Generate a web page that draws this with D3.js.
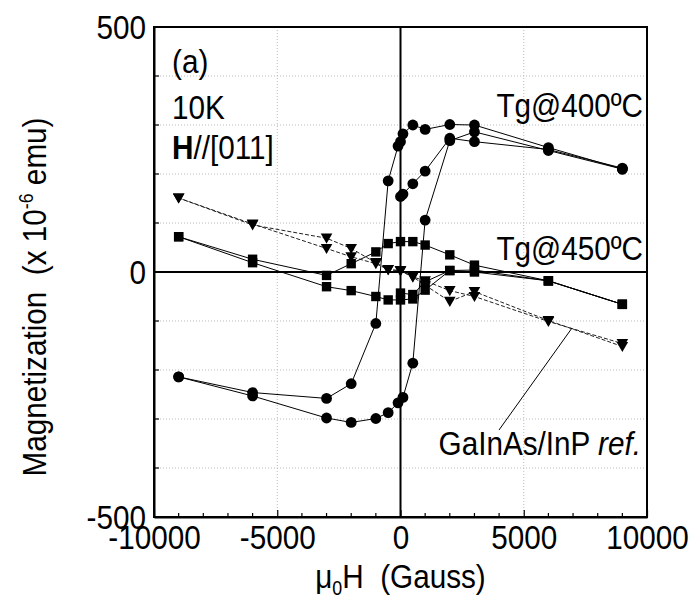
<!DOCTYPE html>
<html>
<head>
<meta charset="utf-8">
<script src="https://cdn.jsdelivr.net/npm/d3@7"></script>
<style>
  body { margin: 0; background: #fff; }
  text { font-family: Arial, "Liberation Sans", sans-serif; fill: #000; }
</style>
</head>
<body>
<svg id="chart" width="695" height="599"></svg>
<script>
// ---------------------------------------------------------------- data
// Tg@400ºC (circles), each sweep as [field (G), moment (1e-6 emu)]
var tg400_down = [[9000, 210], [6000, 254], [3000, 300], [2000, 301], [1000, 291], [500, 300], [100, 282], [0, 266], [-100, 257], [-500, 186], [-1000, -105], [-2000, -228], [-3000, -258], [-6000, -246], [-9000, -214]];
var tg400_up = [[-9000, -214], [-6000, -253], [-3000, -298], [-2000, -307], [-1000, -299], [-500, -287], [-100, -267], [100, -256], [500, -186], [1000, 106], [2000, 268], [3000, 286], [6000, 248], [9000, 210]];
var tg400_virgin = [[0, 154], [100, 159], [500, 180], [1000, 206], [2000, 273], [3000, 266], [6000, 250], [9000, 212]];
// Tg@450ºC (squares)
var tg450_down = [[9000, -66], [6000, -18], [3000, 14], [2000, 35], [1000, 55], [500, 62], [0, 62], [-500, 58], [-1000, 41], [-2000, 17], [-3000, -7], [-6000, 26], [-9000, 72]];
var tg450_up = [[-9000, 72], [-6000, 19], [-3000, -30], [-2000, -38], [-1000, -50], [-500, -57], [0, -57], [500, -55], [1000, -37], [2000, 3], [3000, 4], [6000, -18], [9000, -66]];
var tg450_virgin = [[0, -43], [500, -46], [1000, -20], [2000, 3], [3000, 0], [6000, -18], [9000, -66]];
// GaInAs/InP reference (triangles, dashed)
var ref_up = [[-9000, 151], [-6000, 96], [-3000, 69], [-2000, 48], [-1000, 19], [-500, 5], [0, 2], [500, -10], [1000, -18], [2000, -38], [3000, -50], [6000, -101], [9000, -146]];
var ref_down = [[9000, -152], [6000, -99], [3000, -40], [2000, -60], [1000, -27], [500, -10], [0, 3], [-500, 5], [-1000, 17], [-2000, 31], [-3000, 48], [-6000, 98], [-9000, 151]];

var x_ticks = [-10000, -5000, 0, 5000, 10000];
var y_ticks = [-500, 0, 500];
//----------------------------------------------------------------------
var margin = { left: 154, right: 48, top: 27, bottom: 82 };
var width = 695 - margin.left - margin.right;
var height = 599 - margin.top - margin.bottom;
var fs = 33, squeeze = 0.9; // the original lettering is tall and narrow

var svg = d3.select("#chart");
var g = svg.append("g").attr("transform", "translate(" + margin.left + "," + margin.top + ")");
var xScale = d3.scaleLinear().domain([-10000, 10000]).range([0, width]);
var yScale = d3.scaleLinear().domain([-500, 500]).range([height, 0]);
var hyphen = d => String(d); // plain hyphen minus like the original

// grid, dotted
g.selectAll(".hgrid").data(d3.range(-400, 500, 100).filter(d => d != 0)).join("line").attr("class", "hgrid")
  .attr("x1", 0).attr("x2", width).attr("y1", d => yScale(d)).attr("y2", d => yScale(d))
  .attr("stroke", "#bbb").attr("stroke-width", 1).attr("stroke-dasharray", "1,2");
g.selectAll(".vgrid").data([-5000, 5000]).join("line").attr("class", "vgrid")
  .attr("y1", 0).attr("y2", height).attr("x1", d => xScale(d)).attr("x2", d => xScale(d))
  .attr("stroke", "#bbb").attr("stroke-width", 1).attr("stroke-dasharray", "1,2");

// zero lines
g.append("line").attr("x1", 0).attr("x2", width).attr("y1", yScale(0)).attr("y2", yScale(0)).attr("stroke", "#000").attr("stroke-width", 2);
g.append("line").attr("x1", xScale(0)).attr("x2", xScale(0)).attr("y1", 0).attr("y2", height).attr("stroke", "#000").attr("stroke-width", 2);

// minor ticks
g.selectAll(".xminor").data(d3.range(-9000, 10000, 1000).filter(d => d % 5000 != 0)).join("line").attr("class", "xminor")
  .attr("x1", d => xScale(d)).attr("x2", d => xScale(d)).attr("y1", height).attr("y2", height - 4).attr("stroke", "#000").attr("stroke-width", 1.2);
g.selectAll(".yminor").data(d3.range(-400, 500, 100)).join("line").attr("class", "yminor")
  .attr("x1", 0).attr("x2", 5).attr("y1", d => yScale(d)).attr("y2", d => yScale(d)).attr("stroke", "#000").attr("stroke-width", 1.2);

// axes
var xAxis = g.append("g").attr("transform", "translate(0," + height + ")")
  .call(d3.axisBottom(xScale).tickValues(x_ticks).tickSizeInner(-7).tickSizeOuter(0).tickPadding(9).tickFormat(hyphen));
var yAxis = g.append("g")
  .call(d3.axisLeft(yScale).tickValues(y_ticks).tickSizeInner(0).tickSizeOuter(0).tickPadding(8).tickFormat(hyphen));
[xAxis, yAxis].forEach(a => {
  a.select(".domain").attr("stroke-width", 2);
  a.selectAll(".tick line").attr("stroke-width", 1.2);
  a.selectAll("text").attr("font-size", fs).attr("font-family", "Arial, 'Liberation Sans', sans-serif")
    .attr("transform", "scale(" + squeeze + ",1)");
});
yAxis.selectAll("text").attr("dy", "0.36em").attr("x", -8 / squeeze);
// frame
g.append("rect").attr("x", 0).attr("y", 0).attr("width", width).attr("height", height)
  .attr("fill", "none").attr("stroke", "#000").attr("stroke-width", 2);

// ---------------------------------------------------------------- series
var line = d3.line().x(d => xScale(d[0])).y(d => yScale(d[1]));
var sweeps = [
  { data: tg400_down, symbol: "circle", dash: null },
  { data: tg400_up, symbol: "circle", dash: null },
  { data: tg400_virgin, symbol: "circle", dash: null },
  { data: tg450_down, symbol: "square", dash: null },
  { data: tg450_up, symbol: "square", dash: null },
  { data: tg450_virgin, symbol: "square", dash: null },
  { data: ref_up, symbol: "tri", dash: "4,2" },
  { data: ref_down, symbol: "tri", dash: "4,2" }
];
sweeps.forEach(s => {
  g.append("path").attr("d", line(s.data)).attr("fill", "none").attr("stroke", s.dash ? "#222" : "#000")
    .attr("stroke-width", 1).attr("stroke-dasharray", s.dash);
});
sweeps.forEach(s => {
  var sel = g.append("g").selectAll("path").data(s.data).join("path")
    .attr("transform", d => "translate(" + xScale(d[0]) + "," + yScale(d[1]) + ")").attr("fill", "#000");
  if (s.symbol == "circle") sel.attr("d", d3.symbol().type(d3.symbolCircle).size(Math.PI * 5.4 * 5.4)());
  if (s.symbol == "square") sel.attr("d", "M-4.7,-4.7H4.7V4.7H-4.7Z");
  if (s.symbol == "tri") sel.attr("d", "M-5.8,-4.6H5.8L0,5.6Z");
});

// ---------------------------------------------------------------- labels
function label(x, y, anchor) {
  return svg.append("text").attr("transform", "translate(" + x + "," + y + ") scale(" + squeeze + ",1)")
    .attr("text-anchor", anchor || "start").attr("font-size", fs).style("white-space", "pre");
}
label(172, 73).text("(a)");
label(172, 119).text("10K");
var t = label(172, 159);
t.append("tspan").attr("font-weight", "bold").text("H");
t.append("tspan").text("//[011]");
label(643, 117, "end").text("Tg@400ºC");
label(643, 260, "end").text("Tg@450ºC");
var r = label(641, 455, "end");
r.append("tspan").text("GaInAs/InP ");
r.append("tspan").attr("font-style", "italic").text("ref.");
// pointer to reference curve
svg.append("line").attr("x1", 499).attr("y1", 430).attr("x2", 572).attr("y2", 328).attr("stroke", "#000").attr("stroke-width", 1);

// axis titles
var xt = label(margin.left + width / 2, 588, "middle");
xt.append("tspan").text("\u03bc");
xt.append("tspan").attr("font-size", fs * 0.6).attr("dy", 7).text("0");
xt.append("tspan").attr("dy", -7).text("H  (Gauss)");

var yt = svg.append("text").attr("transform", "translate(46,297) rotate(-90) scale(" + squeeze + ",1)").attr("text-anchor", "middle")
  .attr("font-size", fs).style("white-space", "pre");
yt.append("tspan").text("Magnetization  (x 10");
yt.append("tspan").attr("font-size", fs * 0.6).attr("dy", -13).text("-6");
yt.append("tspan").attr("dy", 13).text(" emu)");
</script>
</body>
</html>
